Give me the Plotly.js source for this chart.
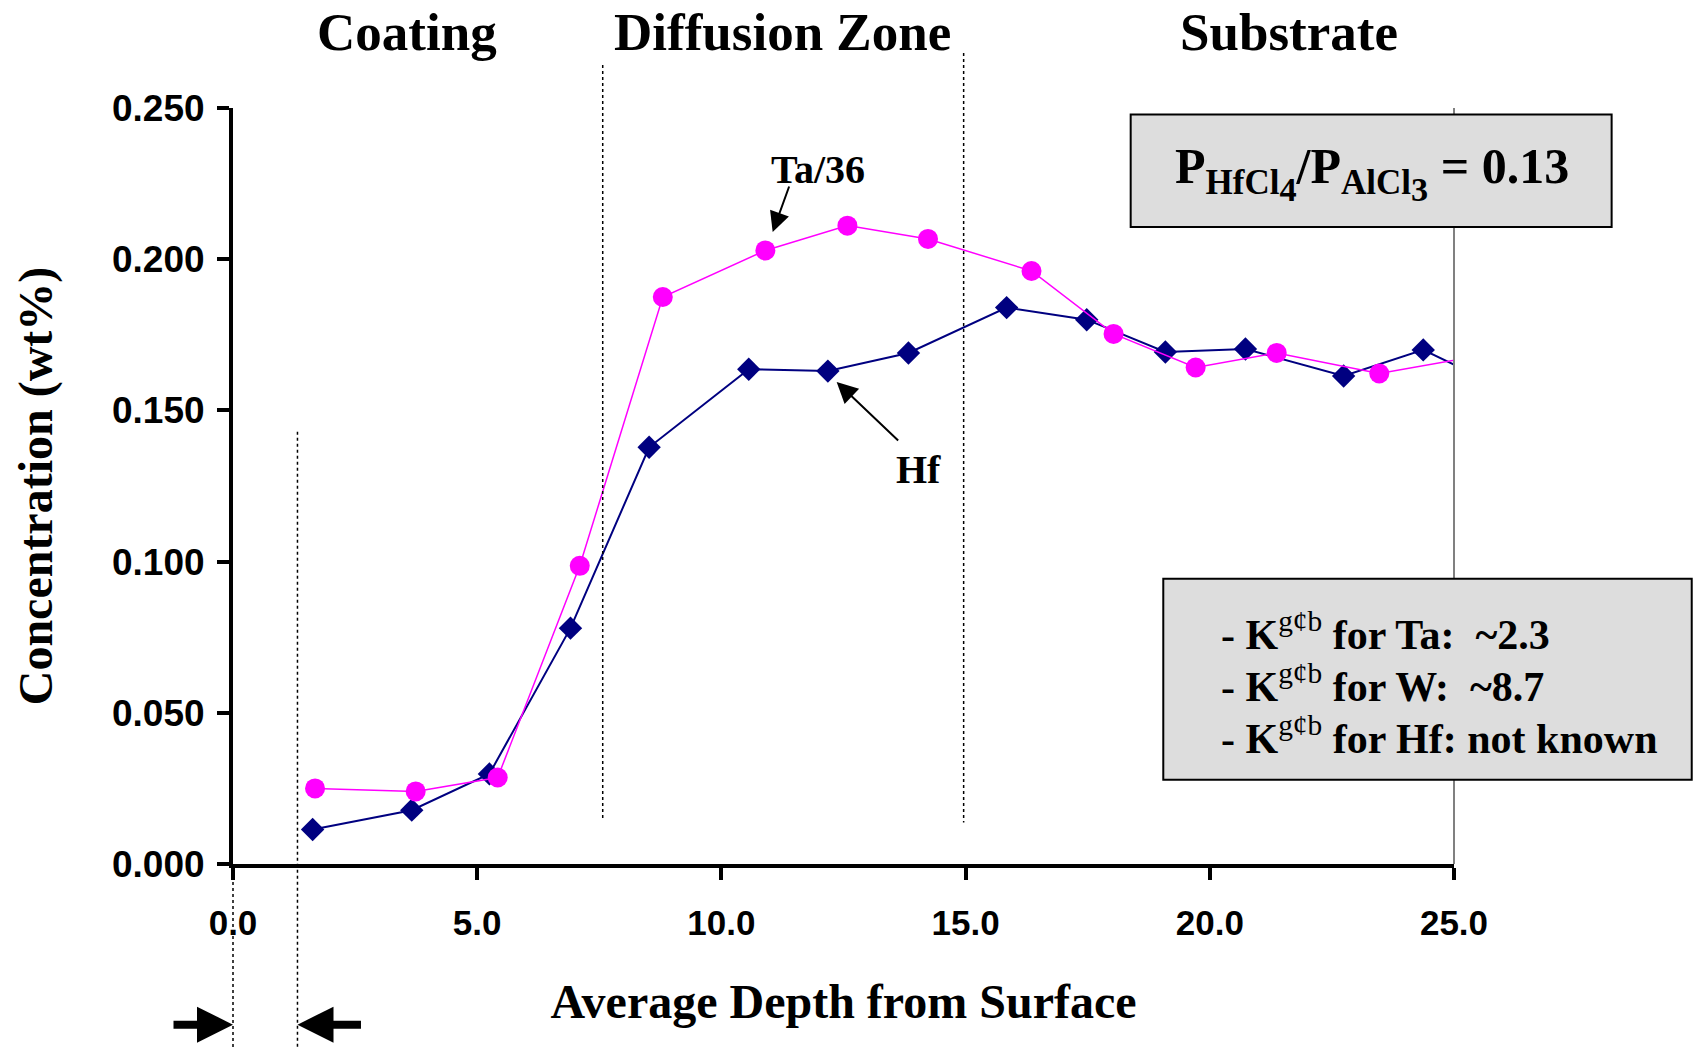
<!DOCTYPE html>
<html>
<head>
<meta charset="utf-8">
<script src="https://cdn.plot.ly/plotly-3.0.1.min.js"></script>
<style>
  html, body { margin: 0; padding: 0; background: #ffffff; }
  #chart { width: 1694px; height: 1050px; }
</style>
</head>
<body>
<div id="chart"></div>
<script>
// ---- data ----
const depthHf = [1.63, 3.66, 5.25, 6.91, 8.52, 10.56, 12.18, 13.83, 15.84, 17.48, 19.09, 20.73, 22.74, 24.37, 26.0];
const concHf  = [0.0114, 0.0178, 0.0298, 0.0780, 0.1378, 0.1636, 0.1630, 0.1690, 0.1840, 0.1800, 0.1693, 0.1703, 0.1614, 0.1700, 0.1575];
const depthTa = [1.68, 3.74, 5.42, 7.10, 8.80, 10.90, 12.58, 14.23, 16.35, 18.03, 19.71, 21.37, 23.47, 25.3];
const concTa36 = [0.0250, 0.0240, 0.0286, 0.0986, 0.1875, 0.2029, 0.2111, 0.2067, 0.1961, 0.1753, 0.1642, 0.1690, 0.1622, 0.1674];

const xRange = [0, 25];
const yRange = [0, 0.25];
const xTickStep = 5;
const yTickStep = 0.05;

const zoneNames = ['Coating', 'Diffusion Zone', 'Substrate'];
const zoneLabelX = [3.57, 11.25, 21.63];
const zoneBounds = [0, 1.32, 7.57, 14.96];

const ratioText = 'P<sub>HfCl<sub><span style="font-size:140%">4</span></sub></sub>/P<sub>AlCl<sub><span style="font-size:140%">3</span></sub></sub> = 0.13';
const kLines = [
  '<b>- K</b><sup>g¢b</sup><b> for Ta:  ~2.3</b>',
  '<b>- K</b><sup>g¢b</sup><b> for W:  ~8.7</b>',
  '<b>- K</b><sup>g¢b</sup><b> for Hf: not known</b>'
];

// ---- helpers: data -> paper fraction ----
const px = x => (x - xRange[0]) / (xRange[1] - xRange[0]);
const py = y => (y - yRange[0]) / (yRange[1] - yRange[0]);

const SERIF = 'Liberation Serif, Times New Roman, serif';
const SANS = 'Liberation Sans, Arial, sans-serif';

const traces = [
  {
    x: depthHf, y: concHf, name: 'Hf', type: 'scatter', mode: 'lines+markers',
    line: { color: '#000080', width: 2 },
    marker: { symbol: 'diamond', size: 18, color: '#000080' },
    cliponaxis: true
  },
  {
    x: depthTa, y: concTa36, name: 'Ta/36', type: 'scatter', mode: 'lines+markers',
    line: { color: '#FF00FF', width: 1.5 },
    marker: { symbol: 'circle', size: 20, color: '#FF00FF' },
    cliponaxis: true
  }
];

const dotted = { color: '#000000', width: 1.5, dash: 'dot' };
const shapes = [
  // right plot-area border (grey)
  { type: 'line', xref: 'paper', yref: 'paper', x0: px(25), x1: px(25), y0: py(0), y1: py(0.25),
    line: { color: '#808080', width: 2 }, layer: 'above' },
  // zone boundary lines
  { type: 'line', xref: 'paper', yref: 'paper', x0: px(zoneBounds[0]), x1: px(zoneBounds[0]), y0: py(0), y1: py(-0.0614), line: dotted },
  { type: 'line', xref: 'paper', yref: 'paper', x0: px(zoneBounds[1]), x1: px(zoneBounds[1]), y0: py(0.1429), y1: py(-0.0614), line: dotted },
  { type: 'line', xref: 'paper', yref: 'paper', x0: px(zoneBounds[2]), x1: px(zoneBounds[2]), y0: py(0.2642), y1: py(0.0143), line: dotted },
  { type: 'line', xref: 'paper', yref: 'paper', x0: px(zoneBounds[3]), x1: px(zoneBounds[3]), y0: py(0.2682), y1: py(0.0137), line: dotted },
  // text boxes
  { type: 'rect', xref: 'paper', yref: 'paper', x0: 0.7352, x1: 1.1291, y0: 0.8427, y1: 0.9914,
    fillcolor: '#DDDDDD', line: { color: '#000000', width: 2 }, layer: 'above' },
  { type: 'rect', xref: 'paper', yref: 'paper', x0: 0.7619, x1: 1.1947, y0: 0.1115, y1: 0.3772,
    fillcolor: '#DDDDDD', line: { color: '#000000', width: 2 }, layer: 'above' }
];

const annotations = [];
zoneNames.forEach((name, i) => {
  annotations.push({
    text: name, xref: 'x', yref: 'paper', x: zoneLabelX[i], y: 1.1005,
    xanchor: 'center', yanchor: 'middle', showarrow: false,
    font: { family: SERIF, size: 53, color: '#000000', weight: 'bold' }
  });
});
// series labels
annotations.push({
  text: 'Ta/36', xref: 'x', yref: 'y', x: 11.97, y: 0.2295, showarrow: false,
  xanchor: 'center', yanchor: 'middle',
  font: { family: SERIF, size: 40, color: '#000000', weight: 'bold' }
});
annotations.push({
  text: 'Hf', xref: 'x', yref: 'y', x: 14.04, y: 0.1303, showarrow: false,
  xanchor: 'center', yanchor: 'middle',
  font: { family: SERIF, size: 40, color: '#000000', weight: 'bold' }
});
// label arrows
annotations.push({
  text: '', xref: 'x', yref: 'y', x: 11.05, y: 0.209, ax: 17, ay: -47,
  showarrow: true, arrowhead: 2, arrowsize: 2, arrowwidth: 2, arrowcolor: '#000000'
});
annotations.push({
  text: '', xref: 'x', yref: 'y', x: 12.36, y: 0.1594, ax: 63, ay: 60,
  showarrow: true, arrowhead: 2, arrowsize: 2.1, arrowwidth: 2, arrowcolor: '#000000'
});
// bottom coating-thickness arrows
annotations.push({
  text: '', xref: 'paper', yref: 'paper', x: px(zoneBounds[0]), y: -0.2125, ax: -61, ay: 0,
  showarrow: true, arrowhead: 2, arrowsize: 0.9, arrowwidth: 8, arrowcolor: '#000000'
});
annotations.push({
  text: '', xref: 'paper', yref: 'paper', x: px(zoneBounds[1]), y: -0.2125, ax: 65, ay: 0,
  showarrow: true, arrowhead: 2, arrowsize: 0.9, arrowwidth: 8, arrowcolor: '#000000'
});
// box texts
annotations.push({
  text: ratioText, xref: 'paper', yref: 'paper', x: 0.9326, y: 0.9141,
  xanchor: 'center', yanchor: 'middle', showarrow: false,
  font: { family: SERIF, size: 50, color: '#000000', weight: 'bold' }
});
const kLineY = [0.3072, 0.2384, 0.1697];
kLines.forEach((t, i) => {
  annotations.push({
    text: t, xref: 'paper', yref: 'paper', x: 0.8073, y: kLineY[i],
    xanchor: 'left', yanchor: 'middle', showarrow: false, align: 'left',
    font: { family: SERIF, size: 42, color: '#000000' }
  });
});

const layout = {
  width: 1694, height: 1050,
  margin: { l: 233, r: 240, t: 108, b: 186, pad: 0 },
  paper_bgcolor: '#ffffff', plot_bgcolor: '#ffffff',
  showlegend: false,
  xaxis: {
    range: xRange, tick0: 0, dtick: xTickStep, tickformat: '.1f',
    showline: true, linewidth: 4, linecolor: '#000000',
    ticks: 'outside', ticklen: 12, tickwidth: 4, tickcolor: '#000000',
    showgrid: false, zeroline: false,
    ticklabelstandoff: 13,
    tickfont: { family: SANS, size: 35, color: '#000000', weight: 'bold' },
    title: { text: 'Average Depth from Surface', standoff: 44,
             font: { family: SERIF, size: 48, color: '#000000', weight: 'bold' } }
  },
  yaxis: {
    range: yRange, tick0: 0, dtick: yTickStep, tickformat: '.3f',
    showline: true, linewidth: 4, linecolor: '#000000',
    ticks: 'outside', ticklen: 12, tickwidth: 4, tickcolor: '#000000',
    showgrid: false, zeroline: false,
    ticklabelstandoff: 5,
    tickfont: { family: SANS, size: 37, color: '#000000', weight: 'bold' },
    title: { text: 'Concentration (wt%)', standoff: 45,
             font: { family: SERIF, size: 48, color: '#000000', weight: 'bold' } }
  },
  shapes: shapes,
  annotations: annotations
};

Plotly.newPlot('chart', traces, layout, { displayModeBar: false, staticPlot: true });
</script>
</body>
</html>
